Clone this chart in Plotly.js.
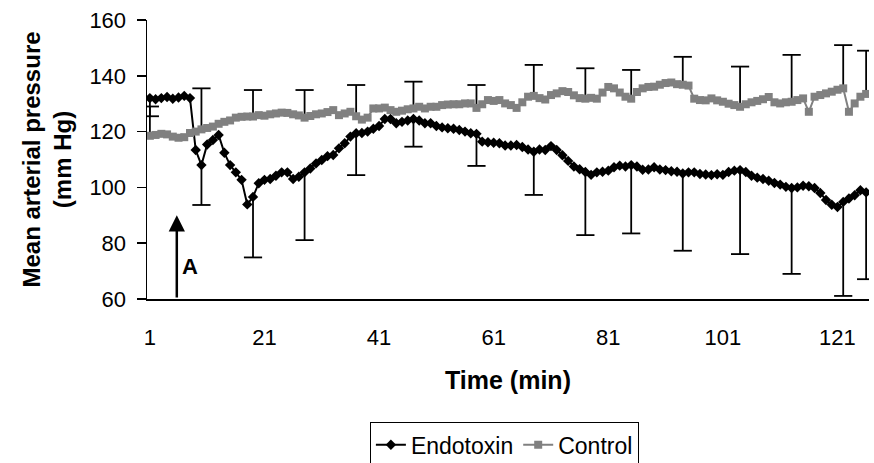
<!DOCTYPE html>
<html>
<head>
<meta charset="utf-8">
<script src="https://cdn.plot.ly/plotly-3.0.1.min.js"></script>
<style>html,body{margin:0;padding:0;background:#fff;}#chart{width:874px;height:463px;}</style>
</head>
<body>
<div id="chart"></div>
<script>
// ---- data ----
var minuteCount = 126;                       // minutes 1..126 (category index)
var xTickVals = [1, 21, 41, 61, 81, 101, 121];
var yTickVals = [60, 80, 100, 120, 140, 160];

var endotoxin = [
  132, 131.6, 132, 132.4, 131.8, 132.2, 132.8, 132, 113.4, 108,
  115.4, 117, 118.8, 112.4, 108, 105.4, 102.7, 93.9, 96.6, 101.5,
  102.7, 103, 104.2, 105.4, 105.4, 103, 103.8, 105.4, 106.8, 108.6,
  109.8, 111.2, 111.6, 114, 115.8, 118.2, 119.4, 119.5, 120, 121,
  122, 124.5, 124.5, 123, 123.5, 124, 124.5, 124, 123, 123,
  122, 121.5, 121.2, 121, 120.6, 120, 119.4, 119.2, 116.4, 116.2,
  116, 115.8, 115, 115, 115.2, 114.5, 113.6, 112.8, 113.6, 113.4,
  114.8, 113.4, 111.5, 109.5, 107.5, 106.5, 105.5, 104.5, 105.4, 105.6,
  106, 107.2, 107.8, 107.5, 108, 107.5, 106.3, 106.4, 107.2, 106.4,
  106.2, 105.8, 105.6, 105, 105.4, 105.4, 104.8, 104.6, 104.4, 104.7,
  104.5, 105.5, 106, 106.2, 105.5, 104.2, 103.5, 103, 102.4, 101.6,
  101, 100.2, 99.8, 100, 100.6, 100.4, 99.8, 98, 95.5, 93.8,
  93, 94.8, 96, 97.2, 99, 98.2
];

var control = [
  118.5, 118.8, 119.2, 119, 118.2, 117.8, 118, 119.5, 120, 120.8,
  121.3, 121.8, 122.8, 123.5, 124, 125, 125.3, 125.4, 125.4, 125.9,
  125.7, 126.2, 126.5, 126.8, 126.7, 126.2, 125.8, 125, 125.6, 126.2,
  126.5, 127, 127.7, 125.9, 126.5, 127.1, 125.5, 124.3, 125, 128.3,
  128.3, 128.6, 127.7, 127.1, 127.5, 128, 128.3, 128.9, 128.3, 128.9,
  128.9, 129.5, 129.7, 129.8, 129.8, 130.1, 130.1, 128.5, 129.8, 131.3,
  131, 131.3, 130.1, 129.5, 128.5, 130.5, 132.5, 132.8, 132, 131.5,
  133.1, 133.7, 134.5, 134.2, 133, 132, 131.8, 132.1, 131.8, 134,
  136, 135.5, 134, 132.5, 131.8, 134.2, 135.5, 136, 136.1, 136.8,
  137.4, 137.6, 137, 136.8, 136.5, 131.8, 131.3, 131.2, 131.9, 131.2,
  130.7, 130, 129.5, 128.9, 129.8, 130.5, 131, 131.6, 132.4, 130.5,
  130.1, 130.5, 130.7, 131.3, 131.9, 127.1, 132.5, 133.1, 133.7, 134.3,
  135, 135.5, 127.1, 130.1, 132.5, 133.5
];

// error bars: endotoxin drawn downward, control drawn upward
var barMinutes     = [1, 10, 19, 28, 37, 47, 58, 68, 77, 85, 94, 104, 113, 122, 126];
var endotoxinErrDn = [6.5, 14.3, 21.7, 24.3, 15, 9.9, 11.5, 15.5, 22.6, 24.5, 27.7, 30.1, 30.8, 33.7, 31.1];
var controlErrUp   = [10.5, 14.7, 9.5, 9.9, 11.2, 9.6, 8.2, 11.1, 10.9, 10.3, 10, 14.4, 16.8, 15.5, 15.5];

// ---- build traces ----
var minutes = [];
for (var i = 1; i <= minuteCount; i++) minutes.push(i);

var endoMinus = minutes.map(function(){ return NaN; });
var ctrlPlus  = minutes.map(function(){ return NaN; });
var endoCapY = [], ctrlCapY = [];
barMinutes.forEach(function(m, k){
  endoMinus[m-1] = endotoxinErrDn[k];
  ctrlPlus[m-1]  = controlErrUp[k];
  endoCapY.push(endotoxin[m-1] - endotoxinErrDn[k]);
  ctrlCapY.push(control[m-1] + controlErrUp[k]);
});

var FONT = 'Liberation Sans, Arial, Helvetica, sans-serif';
var GRAY = '#808080';

var traces = [
  {
    x: minutes, y: endotoxin, name: 'Endotoxin', type: 'scatter', mode: 'lines+markers',
    line: {color: '#000', width: 2},
    marker: {symbol: 'diamond', size: 8, color: '#000'},
    error_y: {type: 'data', symmetric: false, array: [], arrayminus: endoMinus,
              color: '#000', thickness: 1.8, width: 0}
  },
  {
    x: minutes, y: control, name: 'Control', type: 'scatter', mode: 'lines+markers',
    line: {color: GRAY, width: 2},
    marker: {symbol: 'square', size: 8, color: GRAY},
    error_y: {type: 'data', symmetric: false, array: ctrlPlus, arrayminus: [],
              color: '#000', thickness: 1.8, width: 0}
  },
  {
    x: barMinutes, y: endoCapY, type: 'scatter', mode: 'markers', showlegend: false, hoverinfo: 'skip',
    marker: {symbol: 'line-ew', size: 13, line: {color: '#000', width: 1.8}}
  },
  {
    x: barMinutes, y: ctrlCapY, type: 'scatter', mode: 'markers', showlegend: false, hoverinfo: 'skip',
    marker: {symbol: 'line-ew', size: 13, line: {color: '#000', width: 1.8}}
  }
];

var layout = {
  width: 874, height: 463,
  margin: {l: 147, r: 5, t: 20, b: 164, pad: 0},
  paper_bgcolor: '#fff', plot_bgcolor: '#fff',
  font: {family: FONT, color: '#000', size: 22},
  showlegend: true,
  legend: {
    orientation: 'h', xref: 'paper', yref: 'container',
    x: 0.495, xanchor: 'center', y: 0.088, yanchor: 'top',
    bordercolor: '#000', borderwidth: 1, bgcolor: '#fff',
    font: {family: FONT, size: 23, color: '#000'}, traceorder: 'normal'
  },
  xaxis: {
    range: [0.5, 126.5], tickvals: xTickVals, ticks: '', showgrid: false, zeroline: false,
    showline: true, linecolor: '#000', linewidth: 1.5, automargin: false,
    ticklabelstandoff: 18,
    tickfont: {family: FONT, size: 22, color: '#000'},
    title: {text: 'Time (min)', font: {family: FONT, size: 25, weight: 'bold', color: '#000'}, standoff: 22}
  },
  yaxis: {
    range: [60, 160], tickvals: yTickVals, ticks: 'outside', ticklen: 9, tickwidth: 1.5, tickcolor: '#000',
    showgrid: false, zeroline: false, showline: true, linecolor: '#000', linewidth: 1.5, automargin: false,
    ticklabelstandoff: 6,
    tickfont: {family: FONT, size: 22, color: '#000'},
    title: {text: 'Mean arterial pressure<br>(mm Hg)', font: {family: FONT, size: 24, weight: 'bold', color: '#000'}, standoff: 11}
  },
  annotations: [
    {x: 5.7, y: 90, ax: 5.7, ay: 60, xref: 'x', yref: 'y', axref: 'x', ayref: 'y',
     text: '', showarrow: true, arrowhead: 2, arrowsize: 1.3, arrowwidth: 2.5, arrowcolor: '#000', standoff: 0},
    {x: 8, y: 71.5, xref: 'x', yref: 'y', text: 'A', showarrow: false,
     font: {family: FONT, size: 22, weight: 'bold', color: '#000'}}
  ]
};

Plotly.newPlot('chart', traces, layout, {staticPlot: true, displayModeBar: false});
</script>
</body>
</html>
